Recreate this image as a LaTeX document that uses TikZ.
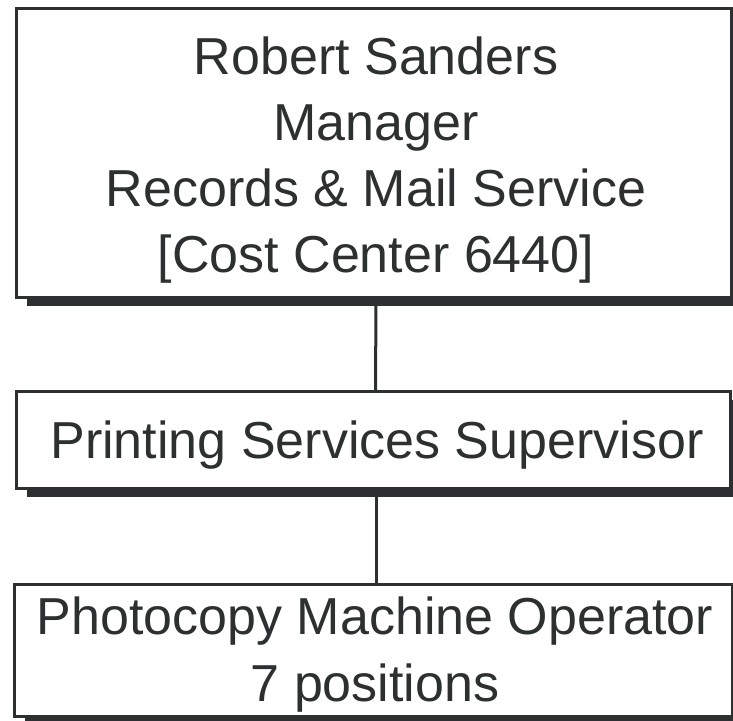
\documentclass[tikz,border=0pt]{standalone}
\usepackage{fontspec}
\setmainfont{Liberation Sans}
\usetikzlibrary{shadows}
\definecolor{ink}{RGB}{45,48,48}
\tikzset{
  orgbox/.style={draw=ink, line width=3pt, fill=white, rectangle, inner sep=0pt,
    drop shadow={shadow xshift=11pt, shadow yshift=-8pt, fill=ink, opacity=1}},
  orgtext/.style={text=ink, inner sep=0pt, anchor=base,
    font=\fontsize{52}{66}\selectfont},
  link/.style={draw=ink, line width=3pt}
}
\begin{document}
\begin{tikzpicture}[x=1pt,y=1pt]
\useasboundingbox (0,0) rectangle (733,720);
\clip (0,0) rectangle (733,720);
\node[orgbox, minimum width=715pt, minimum height=289pt] (b1) at (373.5,566.5) {};
\node[orgbox, minimum width=714pt, minimum height=97pt] (b2) at (373,279.5) {};
\node[orgbox, minimum width=718pt, minimum height=131pt] (b3) at (373,69.5) {};
\draw[link] ([xshift=2.5pt]b1.south) -- ([xshift=2.5pt]b2.north);
\draw[link] ([xshift=3pt]b2.south) -- ([xshift=3pt]b3.north);
\node[orgtext] (t1) at (376,645) {\renewcommand\arraystretch{1}\setlength\tabcolsep{0pt}\begin{tabular}[t]{c}Robert Sanders\\Manager\\Records \& Mail Service\\{[}Cost Center 6440{]}\end{tabular}};
\node[orgtext] (t2) at (377,261) {Printing Services Supervisor};
\node[orgtext] (t3) at (375,85) {\renewcommand\arraystretch{1}\setlength\tabcolsep{0pt}\begin{tabular}[t]{c}Photocopy Machine Operator\\7 positions\end{tabular}};
\end{tikzpicture}
\end{document}
